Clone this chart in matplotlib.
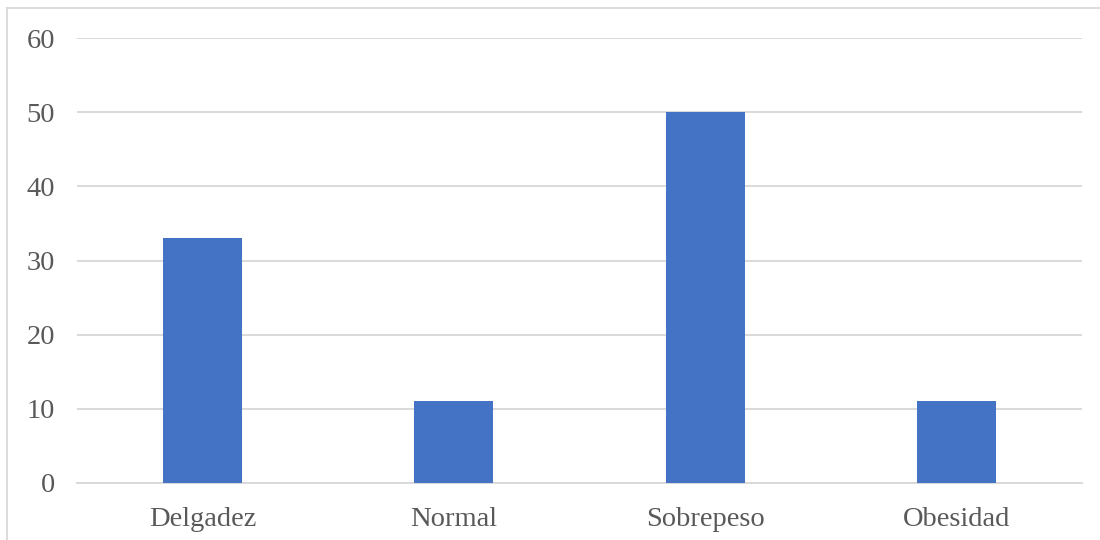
import matplotlib
matplotlib.use("Agg")
import matplotlib.pyplot as plt
from matplotlib.lines import Line2D

categories = ["Delgadez", "Normal", "Sobrepeso", "Obesidad"]
values = [33, 11, 50, 11]
yticks = [0, 10, 20, 30, 40, 50, 60]

plt.rcParams['font.family'] = ['Liberation Serif', 'DejaVu Serif']

fig = plt.figure(figsize=(11, 5.4), dpi=100)
W, H = 1100, 540
left, right = 77 / W, 1082 / W
bottom, top = 1 - 483 / H, 1 - 38 / H
ax = fig.add_axes([left, bottom, right - left, top - bottom])

x = list(range(len(categories)))
ax.bar(x, values, width=0.315, color="#4472C4", zorder=3)
ax.set_xlim(-0.5, len(categories) - 0.5)
ax.set_ylim(0, 60)
ax.set_yticks(yticks)
ax.set_xticks(x)
ax.set_xticklabels(categories)
ax.grid(axis="y", color="#D9D9D9", linewidth=1.4, zorder=0)
for s in ["top", "right", "left"]:
    ax.spines[s].set_visible(False)
ax.spines["bottom"].set_color("#D9D9D9")
ax.spines["bottom"].set_linewidth(1.4)
ax.tick_params(axis="both", length=0, labelsize=20.5, labelcolor="#595959")
ax.tick_params(axis="y", pad=16)
ax.tick_params(axis="x", pad=17)

# outer chart border (partially visible)
fig.add_artist(Line2D([7 / W, 1.0], [1 - 8 / H, 1 - 8 / H], color="#D9D9D9", linewidth=1.3))
fig.add_artist(Line2D([7 / W, 7 / W], [0, 1 - 8 / H], color="#D9D9D9", linewidth=1.3))

fig.savefig("out.png", dpi=100)
